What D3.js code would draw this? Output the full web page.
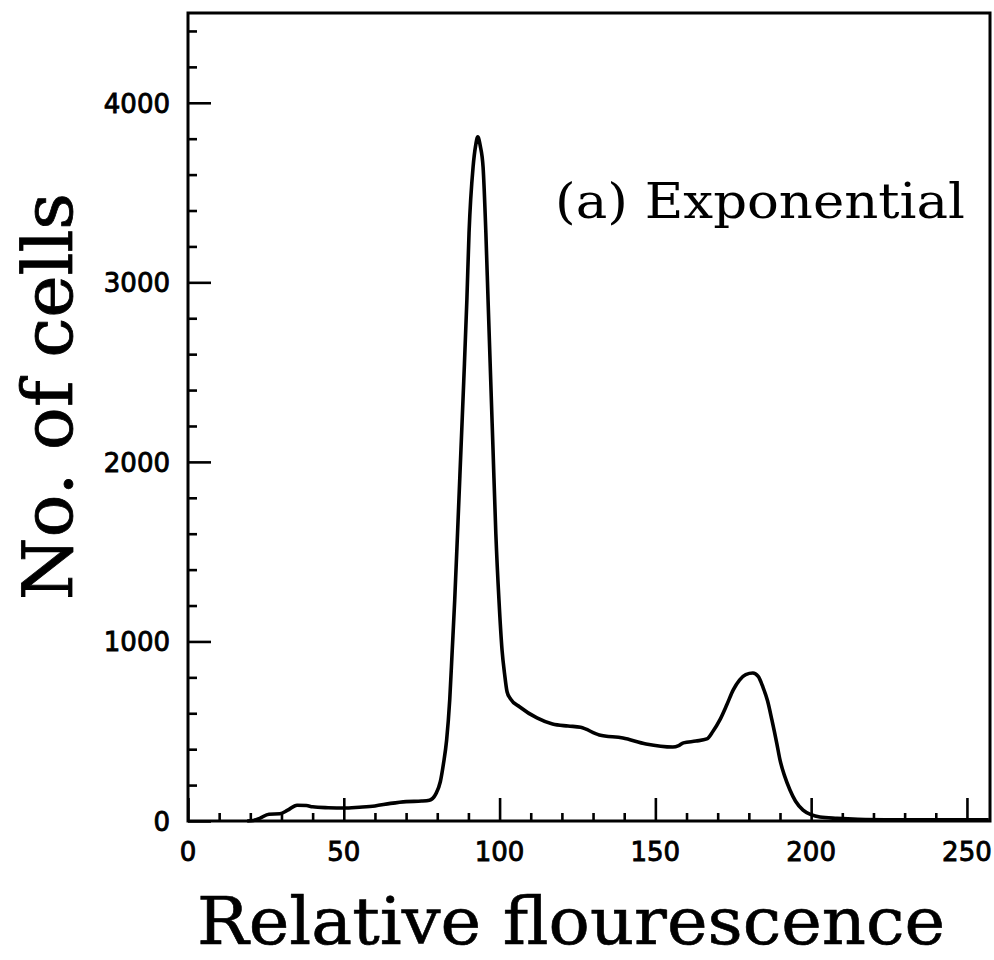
<!DOCTYPE html>
<html>
<head>
<meta charset="utf-8">
<script src="https://cdn.jsdelivr.net/npm/d3@7"></script>
<style>
  html, body { margin: 0; padding: 0; background: #fff; }
  svg { display: block; }
</style>
</head>
<body>
<svg id="chart" width="994" height="960"></svg>
<script>
// ---- data ----
const fluorescence = [19, 21, 23, 26, 29.5, 32, 35, 38, 40, 45, 50, 55, 60, 65, 70, 75, 77.5, 79.5, 81, 82, 83, 84, 84.8, 85.6, 86.5, 87.6, 88.5, 89.5, 90.2, 91.5, 92.3, 93, 93.8, 94.7, 95.6, 96.3, 97.9, 98.8, 99.8, 100.8, 101.6, 102.4, 103.5, 106.5, 112, 117, 122, 126, 132, 139.6, 147, 155.6, 157.5, 159, 163, 166.5, 168.5, 170.7, 173, 175, 177, 179, 181.3, 183, 184.5, 186, 187.4, 189, 190, 191.5, 193.2, 195, 197.4, 200, 202.8, 208.3, 215, 230, 245, 257];
const cells =        [0, 3, 15, 38, 40, 60, 88, 86, 79, 74, 72, 77, 84, 98, 108, 111, 116, 150, 220, 320, 450, 674, 950, 1230, 1600, 2067, 2450, 2900, 3276, 3643, 3760, 3810, 3760, 3643, 3276, 2903, 2067, 1600, 1231, 950, 820, 720, 680, 635, 574, 540, 529, 522, 479, 462, 429, 412, 420, 435, 445, 457, 500, 563, 650, 730, 785, 815, 824, 805, 747, 670, 563, 430, 340, 250, 173, 110, 61, 35, 22, 15, 10, 7, 6, 6];
const xMajorTicks = [0, 50, 100, 150, 200, 250];
const yMajorTicks = [0, 1000, 2000, 3000, 4000];
const xTitle = "Relative flourescence";
const yTitle = "No. of cells";
const panelLabel = "(a) Exponential";

(function () {
// ---- layout ----
const mLeft = 188, mRight = 990, mTop = 13, mBottom = 821;
const svg = d3.select("#chart");

const x = d3.scaleLinear().domain([0, 257.4]).range([mLeft, mRight]);
const y = d3.scaleLinear().domain([0, 4500]).range([mBottom, mTop]);

const xMinor = d3.range(10, 251, 10).filter(v => v % 50 !== 0);
const yMinor = d3.range(200, 4401, 200).filter(v => v % 1000 !== 0);

const tickFont = "'DejaVu Sans', sans-serif";
const serif = "'DejaVu Serif', serif";

// frame
svg.append("rect")
  .attr("x", mLeft).attr("y", mTop)
  .attr("width", mRight - mLeft).attr("height", mBottom - mTop)
  .attr("fill", "none").attr("stroke", "#000").attr("stroke-width", 3);

// x axis minor / major ticks (inward)
const gxMinor = svg.append("g").attr("transform", `translate(0,${mBottom})`)
  .call(d3.axisBottom(x).tickValues(xMinor).tickSize(-8).tickFormat(""));
const gxMajor = svg.append("g").attr("transform", `translate(0,${mBottom})`)
  .call(d3.axisBottom(x).tickValues(xMajorTicks).tickSize(-23).tickFormat(""));
svg.append("g").selectAll("text").data(xMajorTicks).join("text")
  .attr("x", d => x(d)).attr("y", mBottom + 40)
  .attr("text-anchor", "middle")
  .attr("font-family", tickFont).attr("font-size", 26)
  .attr("fill", "#000").attr("stroke", "#000").attr("stroke-width", 0.9)
  .text(d => d);

// y axis minor / major ticks (inward)
const gyMinor = svg.append("g").attr("transform", `translate(${mLeft},0)`)
  .call(d3.axisLeft(y).tickValues(yMinor).tickSize(-9).tickFormat(""));
const gyMajor = svg.append("g").attr("transform", `translate(${mLeft},0)`)
  .call(d3.axisLeft(y).tickValues(yMajorTicks).tickSize(-23).tickFormat(""));
svg.append("g").selectAll("text").data(yMajorTicks).join("text")
  .attr("x", 170).attr("y", d => y(d) + 10)
  .attr("text-anchor", "end")
  .attr("font-family", tickFont).attr("font-size", 26)
  .attr("fill", "#000").attr("stroke", "#000").attr("stroke-width", 0.9)
  .text(d => d);

[gxMinor, gxMajor, gyMinor, gyMajor].forEach(g => {
  g.select(".domain").remove();
  g.selectAll(".tick line").attr("stroke", "#000").attr("stroke-width", 2.6);
});

// curve
const pts = fluorescence.map((v, i) => [v, cells[i]]);
svg.append("path")
  .datum(pts)
  .attr("fill", "none")
  .attr("stroke", "#000")
  .attr("stroke-width", 3.6)
  .attr("stroke-linejoin", "round")
  .attr("d", d3.line().x(d => x(d[0])).y(d => y(d[1])).curve(d3.curveMonotoneX));

// titles
svg.append("text")
  .attr("x", 197).attr("y", 944)
  .attr("font-family", serif).attr("font-size", 66)
  .attr("textLength", 748).attr("lengthAdjust", "spacingAndGlyphs")
  .attr("fill", "#000").attr("stroke", "#000").attr("stroke-width", 0.6)
  .text(xTitle);

svg.append("text")
  .attr("transform", "translate(72,600) rotate(-90)")
  .attr("x", 0).attr("y", 0)
  .attr("font-family", serif).attr("font-size", 70)
  .attr("textLength", 407).attr("lengthAdjust", "spacingAndGlyphs")
  .attr("fill", "#000").attr("stroke", "#000").attr("stroke-width", 0.8)
  .text(yTitle);

svg.append("text")
  .attr("x", 555).attr("y", 218)
  .attr("font-family", serif).attr("font-size", 48)
  .attr("textLength", 410).attr("lengthAdjust", "spacingAndGlyphs")
  .attr("fill", "#000")
  .text(panelLabel);
})();
</script>
</body>
</html>
